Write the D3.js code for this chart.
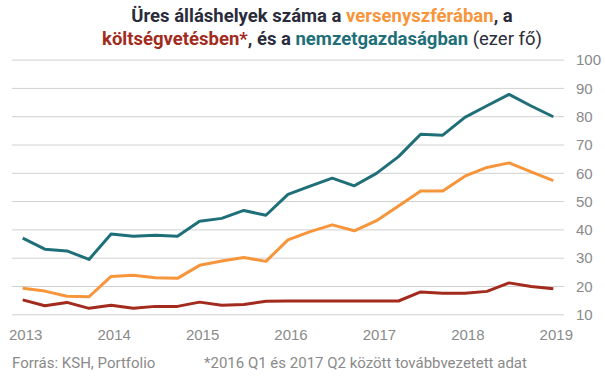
<!DOCTYPE html>
<html><head><meta charset="utf-8">
<script src="https://cdn.jsdelivr.net/npm/d3@7"></script>
<style>
html,body{margin:0;padding:0;background:#fff;}
svg{display:block;font-family:Roboto,"Noto Sans",sans-serif;}
</style></head>
<body>
<svg id="c" width="605" height="378"></svg>
<script>
const quarters = ["2013Q1","2013Q2","2013Q3","2013Q4","2014Q1","2014Q2","2014Q3","2014Q4",
"2015Q1","2015Q2","2015Q3","2015Q4","2016Q1","2016Q2","2016Q3","2016Q4",
"2017Q1","2017Q2","2017Q3","2017Q4","2018Q1","2018Q2","2018Q3","2018Q4","2019Q1"];
const nemzetgazdasag = [36.9,33.0,32.4,29.4,38.4,37.6,37.9,37.6,42.9,43.9,46.7,45.0,52.4,55.3,58.1,55.4,59.8,65.7,73.6,73.3,79.6,83.7,87.7,83.6,79.8];
const versenyszfera = [19.2,18.2,16.4,16.2,23.4,23.8,22.9,22.7,27.3,28.8,30.1,28.7,36.3,39.2,41.6,39.5,43.1,48.3,53.6,53.6,58.8,61.9,63.5,60.3,57.2];
const koltsegvetes = [15.1,13.0,14.2,12.1,13.2,12.1,12.8,12.8,14.3,13.2,13.5,14.6,14.7,14.7,14.7,14.7,14.7,14.7,17.9,17.4,17.4,18.1,21.1,19.8,19.0];
const yTicks = [10,20,30,40,50,60,70,80,90,100];
const yearLabels = ["2013","2014","2015","2016","2017","2018","2019"];

const svg = d3.select("#c");
const x = d3.scalePoint().domain(quarters).range([22.7,553.3]);
const y = d3.scaleLinear().domain([10,100]).range([314.3,59.6]);

// y axis with gridlines
const gy = svg.append("g").attr("transform","translate(564,0)")
  .call(d3.axisRight(y).tickValues(yTicks).tickSize(-(564-12)).tickPadding(12).tickFormat(d3.format("d")));
gy.select(".domain").remove();
gy.selectAll(".tick line").attr("stroke","#d0d0d0").attr("stroke-width",1);
gy.selectAll(".tick text").attr("fill","#8a8a8a").style("font-size","15px").attr("dy","0.35em");

// x axis
const gx = svg.append("g").attr("transform","translate(2.5,325)")
  .call(d3.axisBottom(x).tickValues(yearLabels.map(yy=>yy+"Q1")).tickSize(0).tickPadding(0).tickFormat(d=>d.slice(0,4)));
gx.select(".domain").remove();
gx.selectAll(".tick text").attr("fill","#8a8a8a").style("font-size","15px").attr("dy","15px");

const line = d3.line().x((d,i)=>x(quarters[i])).y(d=>y(d));
const series = [
  {v: koltsegvetes, c:"#a32b1d"},
  {v: versenyszfera, c:"#f7953b"},
  {v: nemzetgazdasag, c:"#1f6f79"}
];
series.forEach(s=>{
  svg.append("path").datum(s.v).attr("d",line).attr("fill","none")
    .attr("stroke",s.c).attr("stroke-width",3).attr("stroke-linejoin","round");
});

// title
const t1 = svg.append("text").attr("x",322).attr("y",22).attr("text-anchor","middle")
  .style("font-size","18.5px").style("font-weight","bold").attr("fill","#2b2c3b");
t1.append("tspan").text("Üres álláshelyek száma a ");
t1.append("tspan").attr("fill","#f7953b").text("versenyszférában");
t1.append("tspan").text(", a");
const t2 = svg.append("text").attr("x",322).attr("y",45).attr("text-anchor","middle")
  .style("font-size","18.5px").style("font-weight","bold").attr("fill","#2b2c3b");
t2.append("tspan").attr("fill","#a32b1d").text("költségvetésben*");
t2.append("tspan").text(", és a ");
t2.append("tspan").attr("fill","#1f6f79").text("nemzetgazdaságban");
t2.append("tspan").style("font-weight","normal").text(" (ezer fő)");

// footer
svg.append("text").attr("x",12).attr("y",368).attr("fill","#8a8a8a").style("font-size","15px").text("Forrás: KSH, Portfolio");
svg.append("text").attr("x",204).attr("y",368).attr("fill","#8a8a8a").style("font-size","15px").text("*2016 Q1 és 2017 Q2 között továbbvezetett adat");
</script>
</body></html>
